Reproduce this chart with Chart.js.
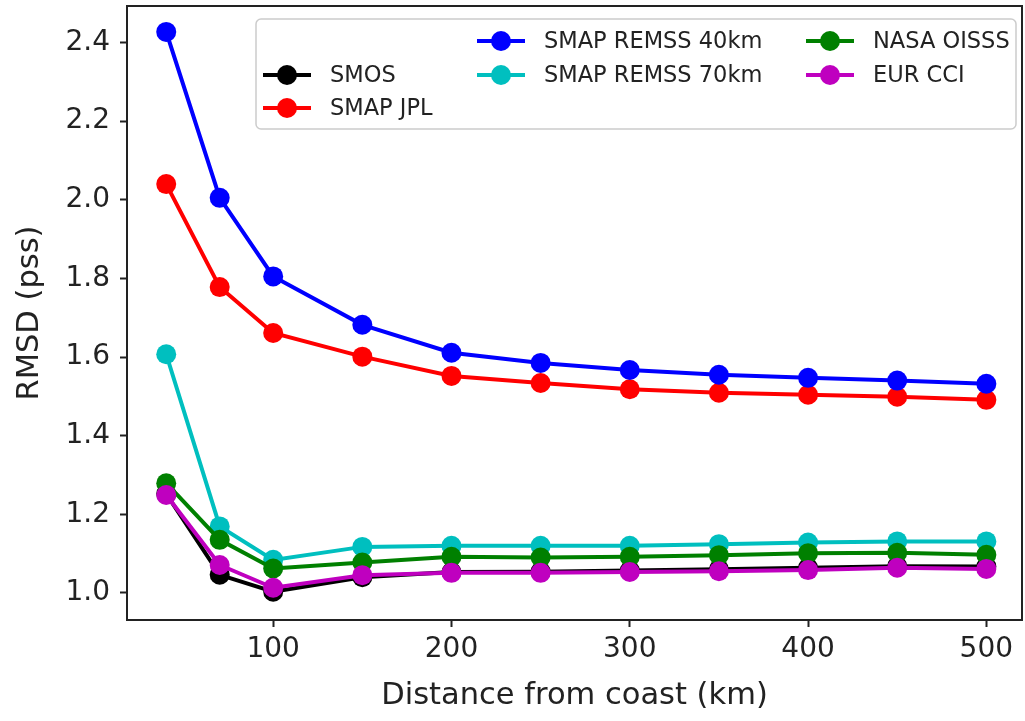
<!DOCTYPE html>
<html>
<head>
<meta charset="utf-8">
<script src="https://cdn.jsdelivr.net/npm/chart.js@4.4.0/dist/chart.umd.min.js"></script>
<style>
  html, body { margin: 0; padding: 0; background: #fff; }
</style>
</head>
<body>
<canvas id="myChart" width="1025" height="721"></canvas>
<script>
// distancia a la costa (km) i RMSD (pss) per producte
const distancia = [40, 70, 100, 150, 200, 250, 300, 350, 400, 450, 500];
const xTicks = [100, 200, 300, 400, 500];
const yTicks = [1.0, 1.2, 1.4, 1.6, 1.8, 2.0, 2.2, 2.4];

const smos      = [1.252, 1.046, 1.003, 1.040, 1.053, 1.054, 1.057, 1.060, 1.064, 1.068, 1.067];
const smapJpl   = [2.040, 1.778, 1.661, 1.601, 1.552, 1.534, 1.518, 1.509, 1.504, 1.499, 1.491];
const remss40   = [2.427, 2.005, 1.805, 1.682, 1.611, 1.585, 1.567, 1.555, 1.547, 1.540, 1.532];
const remss70   = [1.607, 1.169, 1.084, 1.117, 1.120, 1.120, 1.120, 1.124, 1.128, 1.131, 1.131];
const nasaOisss = [1.279, 1.135, 1.062, 1.077, 1.092, 1.090, 1.092, 1.096, 1.101, 1.102, 1.097];
const eurCci    = [1.249, 1.071, 1.013, 1.045, 1.051, 1.051, 1.053, 1.055, 1.058, 1.064, 1.061];

const etiquetes = ['SMOS', 'SMAP JPL', 'SMAP REMSS 40km', 'SMAP REMSS 70km', 'NASA OISSS', 'EUR CCI'];
const colors = ['#000000', '#ff0000', '#0000ff', '#00bfbf', '#008000', '#bf00bf'];
const series = [smos, smapJpl, remss40, remss70, nasaOisss, eurCci];

const FONT = 'DejaVu Sans';
const AXIS = '#222222';

function serie(i) {
    return {
        label: etiquetes[i],
        data: series[i].map((v, k) => ({x: distancia[k], y: v})),
        borderColor: colors[i],
        backgroundColor: colors[i],
        borderWidth: 4,
        pointRadius: 10,
        pointHoverRadius: 10,
        pointBorderWidth: 0,
        tension: 0,
        order: series.length - i   // later series on top, like matplotlib
    };
}

// frame round the plot area
const marc = {
    id: 'marc',
    afterDatasetsDraw(chart) {
        const a = chart.chartArea, c = chart.ctx;
        c.save();
        c.strokeStyle = AXIS;
        c.lineWidth = 2;
        c.strokeRect(a.left, a.top, a.right - a.left, a.bottom - a.top);
        c.restore();
    }
};

// legend in 3 columns, filled column by column (first slot empty)
const llegenda = {
    id: 'llegenda',
    afterDraw(chart) {
        const c = chart.ctx;
        const caixa = {x: 256, y: 19, w: 760, h: 110};
        c.save();
        c.beginPath();
        c.roundRect(caixa.x, caixa.y, caixa.w, caixa.h, 5);
        c.fillStyle = 'rgba(255,255,255,0.85)';
        c.fill();
        c.strokeStyle = '#cccccc';
        c.lineWidth = 1.5;
        c.stroke();

        const colX = [287, 501, 830];
        const rowY = [41, 75, 108];
        // [columna, fila, dataset]
        const slots = [[0, 1, 0], [0, 2, 1], [1, 0, 2], [1, 1, 3], [2, 0, 4], [2, 1, 5]];
        c.font = '22.5px "' + FONT + '"';
        c.textBaseline = 'middle';
        c.textAlign = 'left';
        slots.forEach(([col, row, d]) => {
            const ds = chart.data.datasets[d];
            const mx = colX[col], my = rowY[row];
            c.strokeStyle = ds.borderColor;
            c.lineWidth = 4;
            c.beginPath();
            c.moveTo(mx - 24, my);
            c.lineTo(mx + 24, my);
            c.stroke();
            c.fillStyle = ds.borderColor;
            c.beginPath();
            c.arc(mx, my, 10, 0, Math.PI * 2);
            c.fill();
            c.fillStyle = AXIS;
            c.fillText(ds.label, mx + 43, my + 1);
        });
        c.restore();
    }
};

const ctx = document.getElementById('myChart').getContext('2d');
const myChart = new Chart(ctx, {
    type: 'line',
    data: {
        datasets: series.map((s, i) => serie(i))
    },
    options: {
        responsive: false,
        animation: false,
        devicePixelRatio: 1,
        layout: { autoPadding: false, padding: {top: 6, right: 3, left: 0, bottom: 0} },
        plugins: {
            legend: { display: false },
            tooltip: { enabled: false }
        },
        scales: {
            x: {
                type: 'linear',
                position: 'bottom',
                min: 18,
                max: 520,
                afterBuildTicks: s => { s.ticks = xTicks.map(v => ({value: v})); },
                afterFit: s => { s.height = 101; s.paddingLeft = 0; s.paddingRight = 0; },
                ticks: {
                    font: {family: FONT, size: 28},
                    color: AXIS,
                    padding: 6,
                    maxRotation: 0,
                    callback: v => String(v)
                },
                grid: { drawOnChartArea: false, tickLength: 7, tickWidth: 2, tickColor: AXIS },
                border: { color: AXIS, width: 2 },
                title: {
                    display: true,
                    text: 'Distance from coast (km)',
                    font: {family: FONT, size: 30.5},
                    color: AXIS,
                    padding: {top: 0, bottom: 7}
                }
            },
            y: {
                type: 'linear',
                min: 0.931,
                max: 2.493,
                afterBuildTicks: s => { s.ticks = yTicks.map(v => ({value: v})); },
                afterFit: s => { s.width = 127; s.paddingTop = 0; s.paddingBottom = 0; },
                ticks: {
                    font: {family: FONT, size: 28},
                    color: AXIS,
                    padding: 10,
                    callback: v => v.toFixed(1)
                },
                grid: { drawOnChartArea: false, tickLength: 7, tickWidth: 2, tickColor: AXIS },
                border: { color: AXIS, width: 2 },
                title: {
                    display: true,
                    text: 'RMSD (pss)',
                    font: {family: FONT, size: 30.5},
                    color: AXIS,
                    padding: {top: 12, bottom: 0}
                }
            }
        }
    },
    plugins: [marc, llegenda]
});
</script>
</body>
</html>
